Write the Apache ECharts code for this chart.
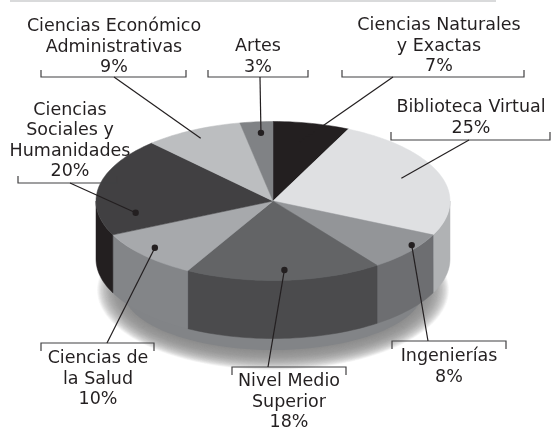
<!DOCTYPE html>
<html>
<head>
<meta charset="utf-8">
<style>
html,body{margin:0;padding:0;background:#fff;}
#chart{width:552px;height:428px;}
</style>
<script src="https://cdn.jsdelivr.net/npm/echarts@6/dist/echarts.min.js"></script>
</head>
<body>
<div id="chart"></div>
<script>
// porcentajes, en el orden del pastel (horario desde arriba)
var names = ['Ciencias Naturales\ny Exactas', 'Biblioteca Virtual', 'Ingenierías', 'Nivel Medio\nSuperior',
	'Ciencias de\nla Salud', 'Ciencias\nSociales y\nHumanidades', 'Ciencias Económico\nAdministrativas', 'Artes'];
var values = [7, 25, 8, 18, 10, 20, 9, 3];

// colores
var topColors = ['#231f20', '#dfe0e2', '#939598', '#636466', '#a7a9ac', '#414042', '#bcbec0', '#808285'];
var wallColors = ['#231f20', '#b0b2b4', '#6d6e71', '#4b4b4d', '#838588', '#231f20', '#231f20', '#231f20'];

// etiquetas: centro del texto, llave [x1, x2, y, largo del tick], inicio de la guia
var labelPos = [[439, 46], [471, 118], [449, 367], [289, 402], [98, 379], [70, 141], [114, 47], [258, 57]];
var brackets = [[342, 524, 77, -7], [391, 550, 140, -8], [392, 506, 341, 8], [232, 346, 367, 8],
	[41, 154, 343, 8], [18, 117, 183, -7], [41, 186, 77, -7], [208, 308, 77, -7]];
var leaderStart = [393, 469, 428, 268, 107, 70, 114, 260];
// donde cae el punto dentro de la rebanada: fraccion del arco y del radio
var anchorAlong = [0.46, 0.48, 0.35, 0.49, 0.55, 0.2, 0.49, 0.58];
var anchorRadius = [0.76, 0.78, 0.96, 0.87, 0.89, 0.79, 0.89, 0.86];
var hasDot = [false, false, true, true, true, true, false, true];

var cx = 273, cy = 201, rx = 177, ry = 79.5, depth = 58;
var total = values.reduce(function(a, b){ return a + b; }, 0);

function rimPoint(pct, r, dy){
	var t = pct / total * Math.PI * 2;
	return [cx + rx * r * Math.sin(t), cy - ry * r * Math.cos(t) + (dy || 0)];
}
function startPct(i){
	var s = 0;
	for (var k = 0; k < i; k++) s += values[k];
	return s;
}
function arcPoints(from, to, dy){
	var pts = [];
	var n = Math.max(2, Math.ceil((to - from) * 2));
	for (var k = 0; k <= n; k++) pts.push(rimPoint(from + (to - from) * k / n, 1, dy));
	return pts;
}

// sombra difusa: elipses apiladas de afuera hacia adentro
function renderShadow(params, api){
	var layers = [];
	var steps = 44;
	for (var s = 0; s <= steps; s++) {
		var f = s / steps;
		var pts = [];
		for (var k = 0; k < 120; k++) {
			var t = k / 120 * Math.PI * 2;
			pts.push([cx + (176 - 26 * f) * Math.cos(t), 290 + (80 - 20 * f) * Math.sin(t)]);
		}
		layers.push({
			type: 'polygon',
			shape: {points: pts},
			style: {fill: '#828487', opacity: s == steps ? 1 : 0.05}
		});
	}
	return {type: 'group', children: layers};
}

function renderSlice(params, api){
	var i = params.dataIndex;
	var from = startPct(i), to = from + api.value(0);
	var children = [];
	// pared visible: solo la mitad del frente
	var wFrom = Math.max(from, total / 4), wTo = Math.min(to, total * 3 / 4);
	if (wTo > wFrom) {
		var upper = arcPoints(wFrom, wTo, 0);
		var lower = arcPoints(wFrom, wTo, depth).reverse();
		children.push({
			type: 'polygon',
			shape: {points: upper.concat(lower)},
			style: {fill: wallColors[i], stroke: wallColors[i], lineWidth: 0.5}
		});
	}
	children.push({
		type: 'polygon',
		shape: {points: [[cx, cy]].concat(arcPoints(from, to, 0))},
		style: {fill: topColors[i], stroke: topColors[i], lineWidth: 0.5},
		z2: 5
	});
	return {type: 'group', children: children};
}

function buildLabels(){
	var out = [];
	// franja gris del borde superior
	out.push({type: 'rect', shape: {x: 10, y: 0, width: 486, height: 2}, style: {fill: '#d9dadb'}, z: 10});
	for (var i = 0; i < names.length; i++) {
		var b = brackets[i];
		out.push({
			type: 'polyline',
			shape: {points: [[b[0], b[2] + b[3]], [b[0], b[2]], [b[1], b[2]], [b[1], b[2] + b[3]]]},
			style: {fill: null, stroke: '#414042', lineWidth: 1.2},
			z: 10
		});
		var p = rimPoint(startPct(i) + values[i] * anchorAlong[i], anchorRadius[i]);
		out.push({
			type: 'line',
			shape: {x1: leaderStart[i], y1: b[2], x2: p[0], y2: p[1]},
			style: {stroke: '#231f20', lineWidth: 1.2},
			z: 10
		});
		if (hasDot[i]) {
			out.push({type: 'circle', shape: {cx: p[0], cy: p[1], r: 3.2}, style: {fill: '#231f20'}, z: 10});
		}
		out.push({
			type: 'text',
			x: labelPos[i][0],
			y: labelPos[i][1],
			style: {
				text: names[i] + '\n' + values[i] + '%',
				font: '17.5px "DejaVu Sans"',
				lineHeight: 20.5,
				fill: '#231f20',
				align: 'center',
				verticalAlign: 'middle'
			},
			z: 10
		});
	}
	return out;
}

var myChart = echarts.init(document.getElementById('chart'));
var option = {
	animation: false,
	backgroundColor: '#fff',
	series: [
		{type: 'custom', coordinateSystem: 'none', renderItem: renderShadow, data: [[1]], z: 1, silent: true},
		{type: 'custom', coordinateSystem: 'none', renderItem: renderSlice, data: values.map(function(v){ return [v]; }), z: 2, silent: true}
	],
	graphic: buildLabels()
};
myChart.setOption(option);
</script>
</body>
</html>
